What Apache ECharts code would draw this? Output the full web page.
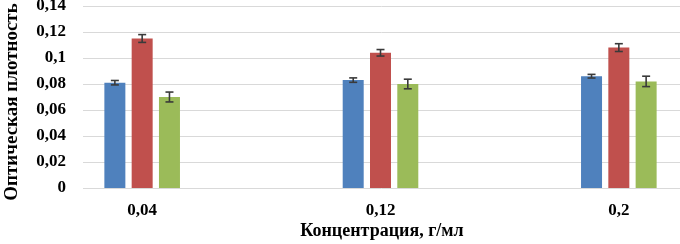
<!DOCTYPE html>
<html>
<head>
<meta charset="utf-8">
<script src="https://cdn.jsdelivr.net/npm/echarts@6/dist/echarts.min.js"></script>
<style>html,body{margin:0;padding:0;background:#fff}#c{width:680px;height:244px}</style>
</head>
<body>
<div id="c"></div>
<script>
var categories = ['0,04', '0,12', '0,2'];
var blueValues = [0.081, 0.083, 0.086];
var blueErrors = [0.0017, 0.0017, 0.0014];
var redValues = [0.115, 0.104, 0.108];
var redErrors = [0.003, 0.0025, 0.003];
var greenValues = [0.070, 0.080, 0.082];
var greenErrors = [0.0038, 0.0037, 0.004];
var yTickLabels = ['0', '0,02', '0,04', '0,06', '0,08', '0,1', '0,12', '0,14'];
var yTitle = 'Оптическая плотность';
var xTitle = 'Концентрация, г/мл';

var font = '"Liberation Serif", "DejaVu Serif", serif';
var colors = ['#4F81BD', '#C0504D', '#9BBB59'];
var barWidth = 21;
var barGapPx = 6.3;
var offsets = [-(barWidth + barGapPx), 0, barWidth + barGapPx];

function errData(vals, errs) {
  return vals.map(function (v, i) { return [i, v - errs[i], v + errs[i]]; });
}
function errSeries(vals, errs, k) {
  return {
    type: 'custom', xAxisIndex: 1, yAxisIndex: 1, z: 5,
    data: errData(vals, errs),
    renderItem: function (params, api) {
      var lo = api.coord([api.value(0), api.value(1)]);
      var hi = api.coord([api.value(0), api.value(2)]);
      var x = lo[0] + offsets[k];
      var cap = 4;
      var st = { stroke: '#3a3a3a', lineWidth: 1.6 };
      return { type: 'group', children: [
        { type: 'line', shape: { x1: x, y1: lo[1], x2: x, y2: hi[1] }, style: st },
        { type: 'line', shape: { x1: x - cap, y1: lo[1], x2: x + cap, y2: lo[1] }, style: st },
        { type: 'line', shape: { x1: x - cap, y1: hi[1], x2: x + cap, y2: hi[1] }, style: st }
      ]};
    }
  };
}
function barSeries(vals, k) {
  return { type: 'bar', xAxisIndex: 1, yAxisIndex: 1, data: vals, barWidth: barWidth,
    barGap: (barGapPx / barWidth * 100) + '%', itemStyle: { color: colors[k] } };
}

var chart = echarts.init(document.getElementById('c'), null, { renderer: 'canvas' });
chart.setOption({
  animation: false,
  grid: [
    { left: 83, right: 0, top: 6, bottom: 56, outerBoundsMode: 'none', containLabel: false },
    { left: 23, right: -58, top: 6, bottom: 56, outerBoundsMode: 'none', containLabel: false }
  ],
  xAxis: [
    { type: 'value', gridIndex: 0, show: false, min: 0, max: 1 },
    { type: 'category', gridIndex: 1, data: categories,
      axisLine: { show: false }, axisTick: { show: false },
      axisLabel: { fontFamily: font, fontWeight: 'bold', fontSize: 17, color: '#000', margin: 14 } }
  ],
  yAxis: [
    { type: 'value', gridIndex: 0, min: 0, max: 0.14, interval: 0.02,
      axisLine: { show: false }, axisTick: { show: false },
      splitLine: { lineStyle: { color: '#d9d9d9', width: 1 } },
      axisLabel: { fontFamily: font, fontWeight: 'bold', fontSize: 17, color: '#000', margin: 17,
        formatter: function (v) { return yTickLabels[Math.round(v / 0.02)]; } } },
    { type: 'value', gridIndex: 1, min: 0, max: 0.14, show: false }
  ],
  graphic: [
    { type: 'text', x: 12, y: 102, rotation: Math.PI / 2,
      style: { text: yTitle, font: 'bold 19px ' + font, fill: '#000', align: 'center', verticalAlign: 'middle' } },
    { type: 'text', x: 382, y: 231,
      style: { text: xTitle, font: 'bold 18px ' + font, fill: '#000', align: 'center', verticalAlign: 'middle' } }
  ],
  series: [
    barSeries(blueValues, 0), barSeries(redValues, 1), barSeries(greenValues, 2),
    errSeries(blueValues, blueErrors, 0), errSeries(redValues, redErrors, 1), errSeries(greenValues, greenErrors, 2)
  ]
});
</script>
</body>
</html>
